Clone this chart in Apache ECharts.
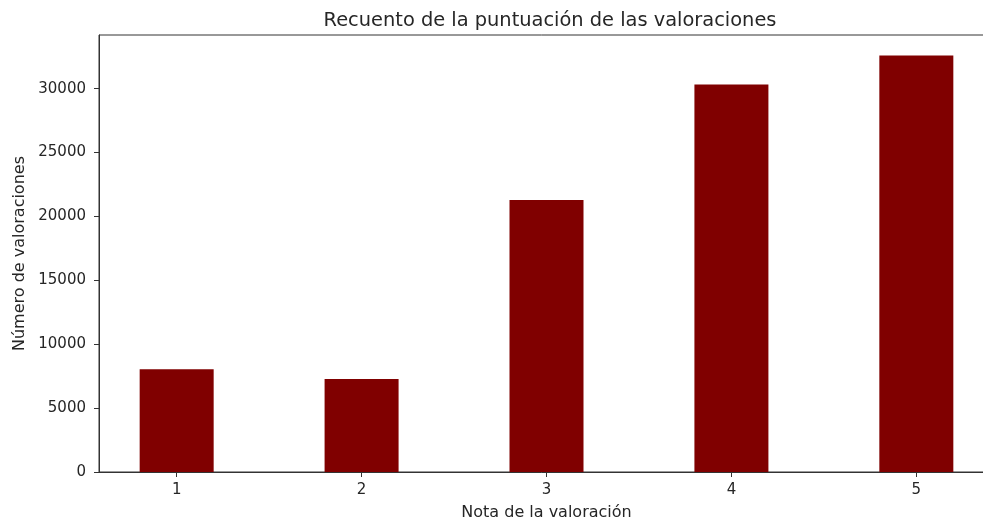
<!DOCTYPE html>
<html>
<head>
<meta charset="utf-8">
<script src="https://cdn.jsdelivr.net/npm/echarts@6/dist/echarts.min.js"></script>
<style>
  html, body { margin: 0; padding: 0; background: #fff; }
  #chart { width: 983px; height: 522px; }
</style>
</head>
<body>
<div id="chart"></div>
<script>
  const notas = [1, 2, 3, 4, 5];
  const recuentos = [8040, 7270, 21280, 30330, 32600];
  const yTicks = [0, 5000, 10000, 15000, 20000, 25000, 30000];

  const textColor = '#262626';
  const font = 'DejaVu Sans';

  const chart = echarts.init(document.getElementById('chart'), null, { renderer: 'canvas' });

  chart.setOption({
    animation: false,
    backgroundColor: '#fff',
    title: {
      text: 'Recuento de la puntuación de las valoraciones',
      left: 545,
      top: 6,
      textAlign: 'center',
      textStyle: { color: textColor, fontFamily: font, fontSize: 19.4, fontWeight: 'normal' }
    },
    grid: {
      left: 99, top: 35, width: 895, bottom: 50,
      outerBoundsMode: 'none',
      containLabel: false,
      show: true, borderColor: '#333', borderWidth: 1, backgroundColor: 'transparent'
    },
    xAxis: {
      type: 'value',
      min: 0.58,
      max: 5.42,
      name: 'Nota de la valoración',
      nameLocation: 'middle',
      nameGap: 33,
      nameTextStyle: { color: textColor, fontFamily: font, fontSize: 16 },
      axisLine: { show: true, onZero: false, lineStyle: { color: '#333', width: 1 } },
      axisTick: { show: true, length: 5, customValues: notas, lineStyle: { color: '#333' } },
      axisLabel: { color: textColor, fontFamily: font, fontSize: 15, margin: 11, customValues: notas },
      splitLine: { show: false }
    },
    yAxis: {
      type: 'value',
      min: 0,
      max: 34200,
      name: 'Número de valoraciones',
      nameLocation: 'middle',
      nameGap: 70,
      nameTextStyle: { color: textColor, fontFamily: font, fontSize: 16 },
      axisLine: { show: true, lineStyle: { color: '#333', width: 1 } },
      axisTick: { show: true, length: 5, customValues: yTicks, lineStyle: { color: '#333' } },
      axisLabel: {
        color: textColor, fontFamily: font, fontSize: 15, margin: 13, customValues: yTicks,
        formatter: (v) => String(v)
      },
      splitLine: { show: false }
    },
    series: [{
      type: 'bar',
      data: notas.map((n, i) => [n, recuentos[i]]),
      barWidth: 74,
      itemStyle: { color: '#800000' },
      emphasis: { disabled: true }
    }]
  });
</script>
</body>
</html>
